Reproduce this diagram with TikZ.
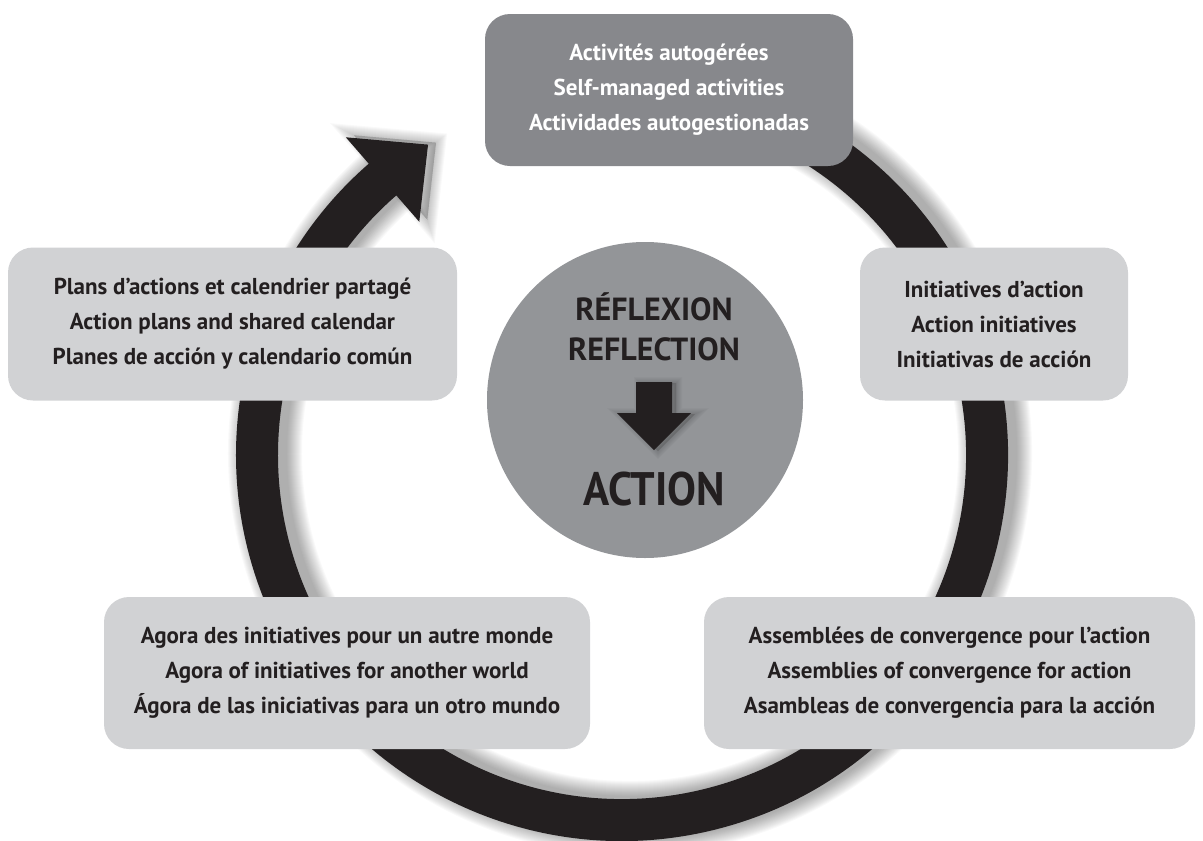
\documentclass[tikz,border=0pt]{standalone}
\usepackage{fontspec}
\newfontfamily\dinfont{PT Sans}
\newfontfamily\dincond[FakeStretch=0.92]{PT Sans}
\usetikzlibrary{positioning}
\definecolor{ringblack}{HTML}{231F20}
\definecolor{boxlight}{HTML}{D1D2D4}
\definecolor{boxdark}{HTML}{87888C}
\definecolor{hubgray}{HTML}{939598}
\tikzset{
  stagebox/.style={fill=boxlight, rounded corners=25pt, inner sep=0pt,
    text=ringblack, align=center,
    font=\dinfont\bfseries\fontsize{23}{35}\selectfont},
  topbox/.style={stagebox, fill=boxdark, text=white},
  ringshade/.style={draw=black, opacity=0.022},
  hubtext/.style={anchor=base, text=ringblack, inner sep=0pt,
    font=\dinfont\bfseries\fontsize{32}{32}\selectfont}
}
\begin{document}
\begin{tikzpicture}[x=1pt,y=1pt]
    \useasboundingbox (0,0) rectangle (1203,-841);
    % cycle ring with its soft shadow
    \begin{scope}[shift={(622,-455)}]
        \foreach \k in {1,...,16}
            \draw[ringshade, line width=42+2*\k, shift={(8,2)}] (105:365) arc[start angle=105, end angle=-229.5, radius=365];
        \foreach \k in {1,...,10}
            \filldraw[ringshade, line width=2*\k, shift={(8,2)}] (131:421) -- (122:366) -- (131:309) -- cycle;
        \draw[ringblack, line width=42] (105:365) arc[start angle=105, end angle=-229.5, radius=365];
        \fill[ringblack] (131:421) -- (122:366) -- (131:309) -- cycle;
    \end{scope}
    % centre disc
    \node[circle, fill=hubgray, minimum size=316pt, inner sep=0pt] (hub) at (645,-400) {};
    \node[hubtext] (refl) at (654,-320) {RÉFLEXION};
    \node[hubtext] (reflen) at (654,-360) {REFLECTION};
    \node[hubtext, font=\dincond\bfseries\fontsize{47}{47}\selectfont] (act) at (654,-505) {ACTION};
    \foreach \k in {1,...,6}
        \filldraw[ringshade, line width=2*\k, shift={(4,-1)}] (636,-382) -- (672,-382) -- (672,-413) -- (691,-413) -- (654,-450) -- (617,-413) -- (636,-413) -- cycle;
    \fill[ringblack] (636,-382) -- (672,-382) -- (672,-413) -- (691,-413) -- (654,-450) -- (617,-413) -- (636,-413) -- cycle;
    % stages
    \node[topbox, minimum width=368pt, minimum height=152pt] (selfman) at (669,-90)
        {Activités autogérées\\Self-managed activities\\Actividades autogestionadas};
    \node[stagebox, minimum width=449pt, minimum height=153pt] (plans) at (232.5,-324)
        {Plans d’actions et calendrier partagé\\Action plans and shared calendar\\Planes de acción y calendario común};
    \node[stagebox, minimum width=268pt, minimum height=153pt] (initiat) at (994,-324)
        {Initiatives d’action\\Action initiatives\\Initiativas de acción};
    \node[stagebox, minimum width=486pt, minimum height=152pt] (agora) at (347,-673)
        {Agora des initiatives pour un autre monde\\Agora of initiatives for another world\\Ágora de las iniciativas para un otro mundo};
    \node[stagebox, minimum width=491pt, minimum height=152pt] (assemb) at (949.5,-673)
        {Assemblées de convergence pour l’action\\Assemblies of convergence for action\\Asambleas de convergencia para la acción};
\end{tikzpicture}
\end{document}
